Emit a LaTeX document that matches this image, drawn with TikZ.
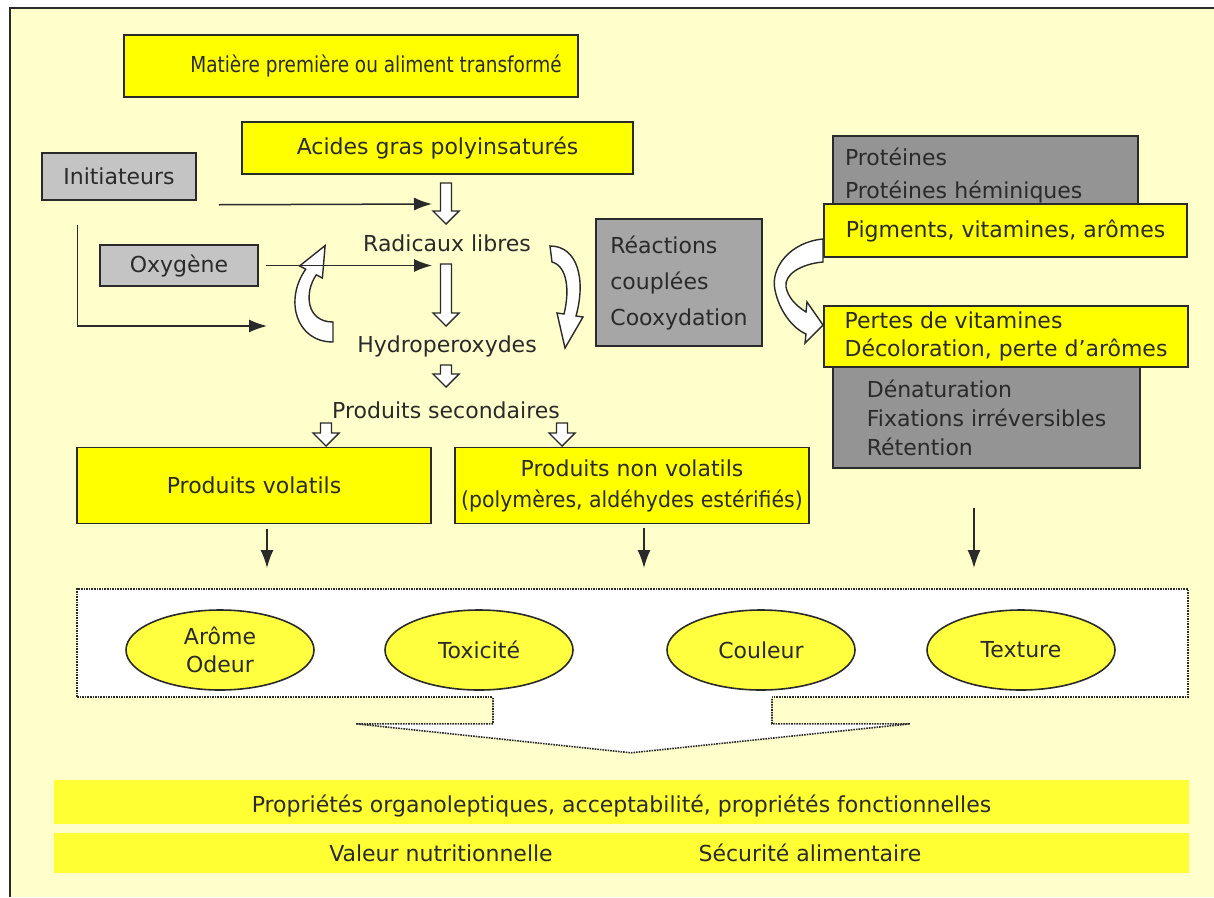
\documentclass[tikz,border=0pt]{standalone}
\usepackage{fontspec}
\usepackage{graphicx}
\setmainfont{DejaVu Sans}
\usetikzlibrary{arrows.meta,calc,shapes.geometric}

\definecolor{papier}{HTML}{FFFFCC}
\definecolor{jaune}{HTML}{FFFF00}
\definecolor{bande}{HTML}{FFFF33}
\definecolor{grisclair}{HTML}{C4C4C4}
\definecolor{grismoyen}{HTML}{A6A6A6}
\definecolor{grisfonce}{HTML}{949494}
\definecolor{encre}{HTML}{2A2A2A}

% fleche creuse verticale : depart, pointe
\newcommand{\flechecreuse}[2]{%
  \draw[creuse] ($(#1)+(-5.5,0)$) -- ($(#2)+(-5.5,-13)$) -- ($(#2)+(-13,-13)$) -- (#2)
    -- ($(#2)+(13,-13)$) -- ($(#2)+(5.5,-13)$) -- ($(#1)+(5.5,0)$) -- cycle;}

\begin{document}
\begin{tikzpicture}[x=1pt,y=-1pt,font=\fontsize{22}{28}\selectfont,text=encre,
    jbox/.style={draw=encre,line width=1.5pt,fill=jaune,inner sep=0pt,align=center},
    gbox/.style={draw=encre,line width=1.5pt,inner sep=0pt},
    fleche/.style={draw=encre,line width=1.5pt,-{Latex[length=18pt,width=13pt]}},
    creuse/.style={draw=encre,line width=1.4pt,fill=white,line join=miter},
    oeil/.style={ellipse,draw=encre,line width=1.6pt,fill=jaune!75!white,
      minimum width=188,minimum height=80,inner sep=0pt,align=center}]
  \useasboundingbox (0,0) rectangle (1214,897);
  \fill[white] (0,0) rectangle (1214,897);
  \fill[papier] (10,8) rectangle (1214,897);
  \draw[encre,line width=2pt] (10,897) -- (10,8) -- (1214,8);

  % colonne centrale
  \node[jbox,minimum width=454,minimum height=62] (matiere) at (351,66) {\hspace*{50pt}\scalebox{0.84}[1]{Matière première ou aliment transformé}};
  \node[jbox,minimum width=391,minimum height=52] (acides) at (437.5,148) {Acides gras polyinsaturés};
  \node[gbox,fill=grisclair,minimum width=154,minimum height=47] (init) at (119,176.5) {Initiateurs};
  \node[gbox,fill=grisclair,minimum width=158,minimum height=41] (oxy) at (179,265.5) {Oxygène};
  \node (radicaux) at (447,243) {Radicaux libres};
  \node (hydro) at (447,346) {Hydroperoxydes};
  \node (second) at (446,410) {Produits secondaires};
  \node[jbox,minimum width=354,minimum height=76] (volatils) at (254,485.5) {Produits volatils};
  \node[jbox,minimum width=354,minimum height=76] (nonvol) at (632,485.5) {Produits non volatils\\[3pt]\scalebox{0.93}[1]{(polymères, aldéhydes estérifiés)}};

  \coordinate (c1a) at (446,183);
  \coordinate (c1b) at (446,224);
  \coordinate (c2a) at (446,264);
  \coordinate (c2b) at (446,326);
  \coordinate (c3a) at (446,365);
  \coordinate (c3b) at (446,387);
  \coordinate (c4a) at (326,423);
  \coordinate (c4b) at (326,446);
  \coordinate (c5a) at (562,423);
  \coordinate (c5b) at (562,446);
  \flechecreuse{c1a}{c1b}
  \flechecreuse{c2a}{c2b}
  \flechecreuse{c3a}{c3b}
  \flechecreuse{c4a}{c4b}
  \flechecreuse{c5a}{c5b}

  % boucle des radicaux
  \draw[creuse] (333,342) .. controls (296,342) and (284,300) .. (305.7,269.2) -- (299.6,265.9)
    -- (325.1,245.6) -- (322.4,278.1) -- (316.3,274.8) .. controls (304,292.4) and (306,322) .. (333,322) -- cycle;
  \draw[creuse] (550,246) .. controls (578,246) and (586,280) .. (576,316) -- (583,317)
    -- (565,348) -- (557,313) -- (564,314) .. controls (570,290) and (567,266) .. (552,262) -- cycle;

  \coordinate (r1) at (432,204);
  \coordinate (r2) at (432,265.5);
  \coordinate (r3) at (267,326);
  \draw[fleche] ($(init.south east)+(22,4)$) -- (r1);
  \draw[fleche] ($(oxy.east)+(7,0)$) -- (r2);
  \draw[fleche] ($(init.south west)+(36,24)$) |- (r3);

  % colonne de droite
  \node[gbox,fill=grismoyen,minimum width=166,minimum height=127,align=left,
    font=\fontsize{22}{36}\selectfont] (reactions) at (679,282.5) {Réactions\\couplées\\Cooxydation};
  \node[gbox,fill=grisfonce,minimum width=305,minimum height=78,text width=281,align=left,
    font=\fontsize{22}{33}\selectfont] (proteines) at (985.5,175) {Protéines\\Protéines héminiques};
  \node[gbox,fill=grisfonce,minimum width=307,minimum height=101,align=left,
    font=\fontsize{22}{29}\selectfont] (denat) at (986.5,417.5) {Dénaturation\\Fixations irréversibles\\Rétention};
  \node[jbox,minimum width=363,minimum height=53] (pigments) at (1005.5,230.5) {Pigments, vitamines, arômes};
  \node[jbox,minimum width=364,minimum height=61,align=left,
    font=\fontsize{22}{28}\selectfont] (pertes) at (1006,336.5) {Pertes de vitamines\\Décoloration, perte d’arômes};

  \draw[creuse] (823,239) .. controls (790,242) and (770,268) .. (775,290) .. controls (779,310) and (792,328) .. (806,334)
    -- (805,343) -- (823,325) -- (807,302) -- (806,312) .. controls (795,305) and (788,297) .. (786,287)
    .. controls (784,275) and (800,264) .. (823,262) -- cycle;

  \coordinate (d1) at (267,568);
  \coordinate (d2) at (644,568);
  \coordinate (d3) at (974,568);
  \draw[fleche] ($(volatils.south)+(13,5)$) -- (d1);
  \draw[fleche] ($(nonvol.south)+(12,4)$) -- (d2);
  \draw[fleche] ($(denat.south)+(-12.5,39)$) -- (d3);

  % effets
  \node[draw=encre,densely dotted,line width=1.6pt,fill=white,minimum width=1111,minimum height=108,inner sep=0pt] (panel) at (632.5,643) {};
  \fill[white] ($(panel.south)+(-139.5,-2)$) -- ++(0,28) -- ++(-137,0) -- ($(panel.south)+(-1.5,55)$)
    -- ($(panel.south)+(277.5,26)$) -- ++(-138,0) -- ++(0,-28) -- cycle;
  \draw[encre,densely dotted,line width=1.6pt] ($(panel.south)+(-139.5,0)$) -- ++(0,26) -- ++(-137,0)
    -- ($(panel.south)+(-1.5,55)$) -- ($(panel.south)+(277.5,26)$) -- ++(-138,0) -- ++(0,-26);
  \node[oeil] (arome) at (220,650) {Arôme\\Odeur};
  \node[oeil] (toxicite) at (479,650) {Toxicité};
  \node[oeil] (couleur) at (761,650) {Couleur};
  \node[oeil] (texture) at (1021,650) {Texture};

  % bandes finales
  \node[fill=bande,minimum width=1135,minimum height=44,inner sep=0pt,text height=22pt,text depth=1pt] (organo) at (621.5,802) {Propriétés organoleptiques, acceptabilité, propriétés fonctionnelles};
  \node[fill=bande,minimum width=1135,minimum height=40,inner sep=0pt] (bas) at (621.5,853) {};
  \node (valeur) at (441,853) {Valeur nutritionnelle};
  \node (securite) at (810,853) {Sécurité alimentaire};
\end{tikzpicture}
\end{document}
